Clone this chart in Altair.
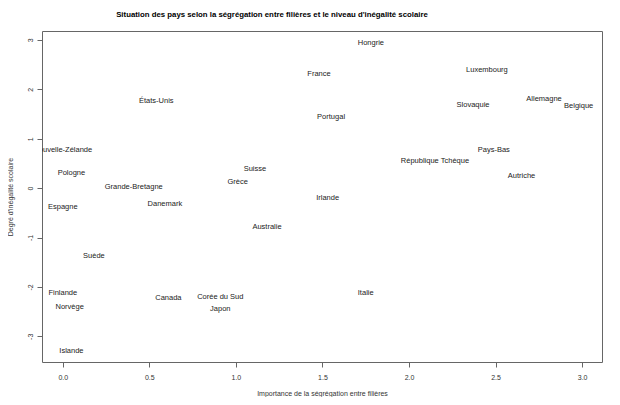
import altair as alt
import pandas as pd

pays = ["Hongrie", "France", "Luxembourg", "Slovaquie", "Allemagne", "Belgique",
        "Portugal", "États-Unis", "Nouvelle-Zélande", "Pologne", "Grande-Bretagne",
        "Grèce", "Suisse", "Espagne", "Danemark", "Irlande", "République Tchèque",
        "Pays-Bas", "Autriche", "Australie", "Suède", "Finlande", "Norvège",
        "Islande", "Canada", "Corée du Sud", "Japon", "Italie"]
segregation = [1.78, 1.48, 2.45, 2.37, 2.78, 2.98,
               1.55, 0.54, 0.00, 0.05, 0.41,
               1.01, 1.11, 0.00, 0.59, 1.53, 2.15,
               2.49, 2.65, 1.18, 0.18, 0.00, 0.04,
               0.05, 0.61, 0.91, 0.91, 1.75]
inegalite = [2.93, 2.30, 2.40, 1.69, 1.81, 1.66,
             1.43, 1.76, 0.78, 0.30, 0.03,
             0.12, 0.38, -0.39, -0.32, -0.21, 0.54,
             0.78, 0.24, -0.78, -1.38, -2.13, -2.41,
             -3.30, -2.23, -2.21, -2.44, -2.13]

df = pd.DataFrame({"pays": pays, "seg": segregation, "ineg": inegalite})

FONT = "Liberation Sans"

chart = alt.Chart(df).mark_text(
    fontSize=7.5, font=FONT, color="#222222", clip=True, baseline="middle", align="center"
).encode(
    x=alt.X("seg:Q",
            scale=alt.Scale(domain=[-0.12, 3.115], nice=False, zero=False),
            axis=alt.Axis(title="Importance de la ségrégation entre filières",
                          values=[0, 0.5, 1, 1.5, 2, 2.5, 3], format=".1f",
                          labelBaseline="middle", labelPadding=10, titleY=31,
                          titleBaseline="middle")),
    y=alt.Y("ineg:Q",
            scale=alt.Scale(domain=[-3.52, 3.18], nice=False, zero=False),
            axis=alt.Axis(title="Degré d'inégalité scolaire",
                          values=[-3, -2, -1, 0, 1, 2, 3],
                          labelExpr="'' + datum.value",
                          labelAngle=270, labelAlign="center", labelBaseline="middle",
                          labelPadding=7, titleX=-31.7, titleAngle=270,
                          titleBaseline="middle", titleAlign="center")),
    text="pays:N",
).properties(
    width=560, height=331,
    autosize=alt.AutoSizeParams(type="none"),
    padding={"left": 34, "top": 23, "right": 10, "bottom": 35},
    title=alt.Title("Situation des pays selon la ségrégation entre filières et le niveau d'inégalité scolaire",
                    fontSize=7.8, font=FONT, fontWeight="bold", anchor="middle",
                    dx=-50, offset=8.7, baseline="middle", color="#000000"),
).configure_view(
    stroke="#666666", strokeWidth=1
).configure_axis(
    grid=False, domain=False, tickSize=5, tickColor="#666666",
    labelFont=FONT, labelFontSize=7, labelColor="#333333",
    titleFont=FONT, titleFontSize=7, titleFontWeight="normal", titleColor="#333333",
)

chart.save("out.html", embed_options={"renderer": "svg", "actions": False})
